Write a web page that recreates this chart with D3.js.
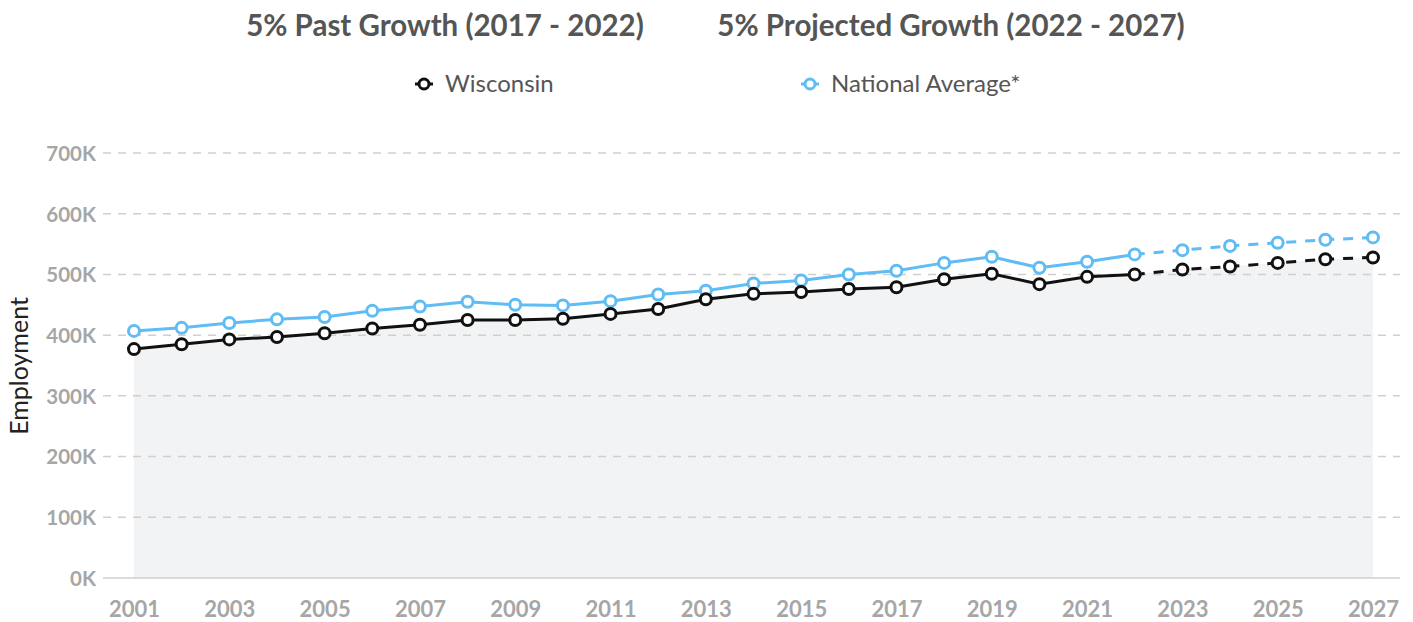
<!DOCTYPE html>
<html><head><meta charset="utf-8">
<script src="https://cdn.jsdelivr.net/npm/d3@7"></script>
<style>
html,body{margin:0;padding:0;background:#fff;}
svg{display:block;font-family:Lato,"Open Sans",sans-serif;}
</style></head>
<body>
<svg id="chart" width="1413" height="622"></svg>
<script>
const years = [2001,2002,2003,2004,2005,2006,2007,2008,2009,2010,2011,2012,2013,2014,2015,2016,2017,2018,2019,2020,2021,2022,2023,2024,2025,2026,2027];
const wisconsin = [377,385,393,397,403,411,417,425,425,427,435,443,459,468,471,476,479,492,501,484,496,500,508,513,519,525,528];
const national = [407,412,420,426,430,440,447,455,450,449,456,467,473,485,490,500,506,519,529,511,521,533,540,547,552,557,561];
const lastActualYear = 2022;
const yTicks = [0,100,200,300,400,500,600,700];
const xTickYears = [2001,2003,2005,2007,2009,2011,2013,2015,2017,2019,2021,2023,2025,2027];
const titles = ["5% Past Growth (2017 - 2022)","5% Projected Growth (2022 - 2027)"];
const seriesNames = ["Wisconsin","National Average*"];
const colors = ["#111111","#5fbcf5"];

const svg = d3.select("#chart");
const x = d3.scaleLinear().domain([2001,2027]).range([134,1373]);
const y = d3.scaleLinear().domain([0,700]).range([578,153]);

// titles
svg.append("text").attr("x",445).attr("y",36).attr("text-anchor","middle")
  .attr("font-size",29.5).attr("font-weight",700).attr("fill","#555").text(titles[0]);
svg.append("text").attr("x",951).attr("y",36).attr("text-anchor","middle")
  .attr("font-size",29.5).attr("font-weight",700).attr("fill","#555").text(titles[1]);

// legend
const legX = [424,810];
seriesNames.forEach((n,i)=>{
  const g = svg.append("g").attr("transform",`translate(${legX[i]},84)`);
  g.append("line").attr("x1",-9).attr("x2",9).attr("stroke",colors[i]).attr("stroke-width",3);
  g.append("circle").attr("r",5).attr("fill","#fff").attr("stroke",colors[i]).attr("stroke-width",3);
  g.append("text").attr("x",21).attr("y",8).attr("font-size",24).attr("fill","#555").text(n);
});

// area
const area = d3.area().x((d,i)=>x(years[i])).y0(y(0)).y1(d=>y(d));
svg.append("path").datum(wisconsin).attr("d",area).attr("fill","#f2f3f5");

// grid
svg.append("g").selectAll("line").data(yTicks.filter(t=>t>0)).join("line")
  .attr("x1",103).attr("x2",1400).attr("y1",d=>y(d)).attr("y2",d=>y(d))
  .attr("stroke","#cfcfcf").attr("stroke-width",1.5).attr("stroke-dasharray","8,7");
svg.append("line").attr("x1",103).attr("x2",1400).attr("y1",y(0)).attr("y2",y(0))
  .attr("stroke","#cfcfcf").attr("stroke-width",1.5);

// y axis labels
const yAxis = d3.axisLeft(y).tickValues(yTicks).tickFormat(d=>d+"K").tickSize(0).tickPadding(0);
const ya = svg.append("g").attr("transform","translate(96,0)").call(yAxis);
ya.select(".domain").remove();
ya.selectAll("text").attr("font-size",20.5).attr("font-weight",700).attr("fill","#a6a6a6")
  .attr("font-family","Lato,sans-serif").attr("dy","0.36em");

// x axis labels
const xAxis = d3.axisBottom(x).tickValues(xTickYears).tickFormat(d3.format("d")).tickSize(0).tickPadding(0);
const xa = svg.append("g").attr("transform","translate(0,617)").call(xAxis);
xa.select(".domain").remove();
xa.selectAll("text").attr("font-size",22).attr("font-weight",700).attr("fill","#a6a6a6")
  .attr("font-family","Lato,sans-serif").attr("y",0).attr("dy","0");

// y title
svg.append("text").attr("transform","translate(28,366) rotate(-90)").attr("text-anchor","middle")
  .attr("font-size",25).attr("fill","#222").text("Employment");

// lines
const line = d3.line().x(d=>x(d[0])).y(d=>y(d[1]));
[wisconsin, national].forEach((vals,i)=>{
  const pts = years.map((yr,j)=>[yr,vals[j]]);
  const past = pts.filter(p=>p[0]<=lastActualYear);
  const proj = pts.filter(p=>p[0]>=lastActualYear);
  svg.append("path").datum(past).attr("d",line).attr("fill","none").attr("stroke",colors[i]).attr("stroke-width",3);
  svg.append("path").datum(proj).attr("d",line).attr("fill","none").attr("stroke",colors[i]).attr("stroke-width",3).attr("stroke-dasharray","10,9");
});
[national, wisconsin].forEach((vals)=>{
  const i = vals===wisconsin?0:1;
  svg.append("g").selectAll("circle").data(vals).join("circle")
    .attr("cx",(d,j)=>x(years[j])).attr("cy",d=>y(d)).attr("r",5.5)
    .attr("fill","#fff").attr("stroke",colors[i]).attr("stroke-width",3);
});
</script>
</body></html>
